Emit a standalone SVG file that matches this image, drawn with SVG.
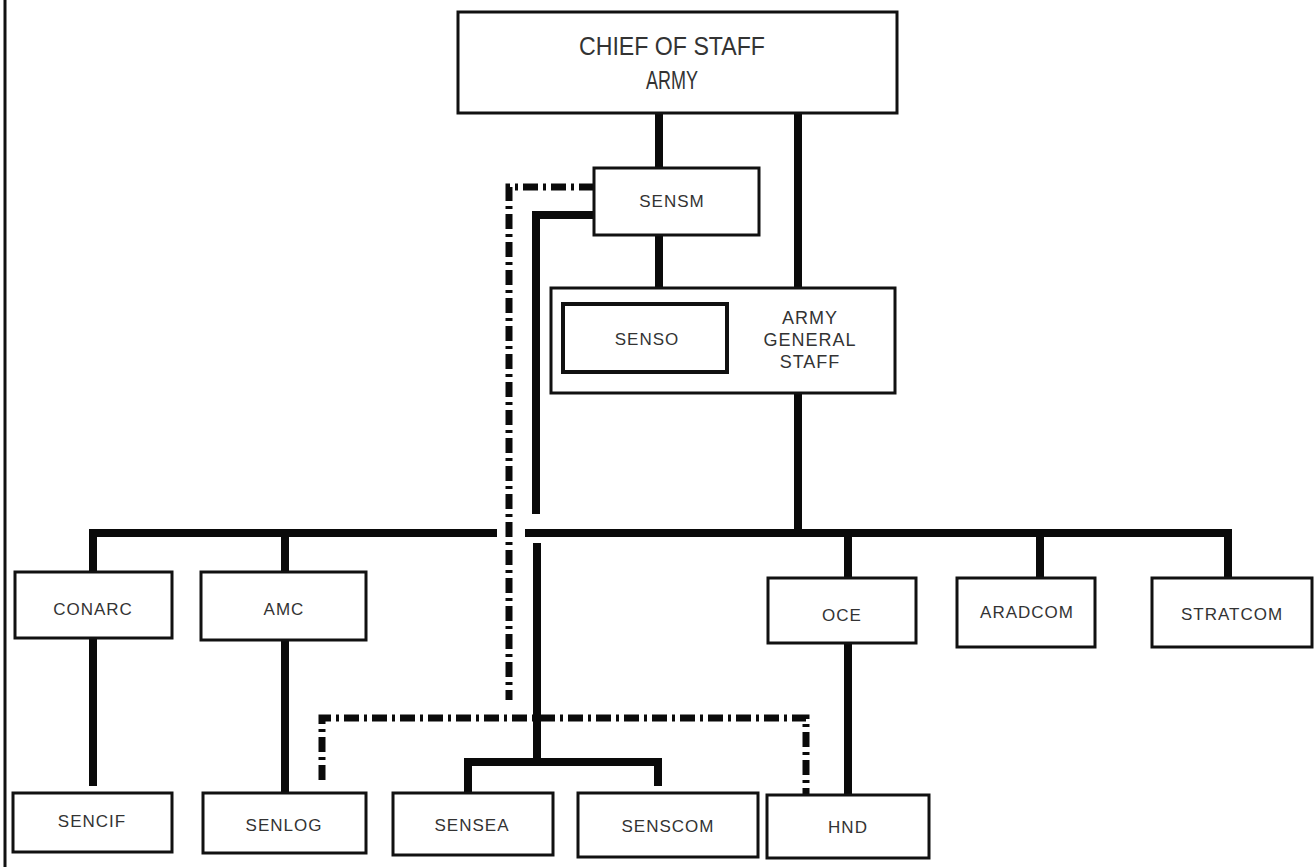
<svg xmlns="http://www.w3.org/2000/svg" width="1315" height="867" viewBox="0 0 1315 867">
<style>
.box{fill:#fff;stroke:#111;stroke-width:3}
.inner{fill:#fff;stroke:#111;stroke-width:4}
.ln{fill:none;stroke:#0a0a0a;stroke-width:8;stroke-linecap:butt;stroke-linejoin:miter}
.dd{fill:none;stroke:#0a0a0a;stroke-width:7;stroke-dasharray:15 5 3 5}
.t{font-family:"Liberation Sans",Arial,sans-serif;font-size:17px;letter-spacing:1px;fill:#333;text-anchor:middle}
.big{font-size:26px;letter-spacing:0}
</style>
<rect width="1315" height="867" fill="#fff"/>
<line x1="5" y1="0" x2="5" y2="867" stroke="#111" stroke-width="3"/>
<g id="connectors">
<path class="ln" d="M659,113 V168"/>
<path class="ln" d="M798,113 V288"/>
<path class="ln" d="M659,235 V288"/>
<path class="ln" d="M798,393 V533"/>
<path class="ln" d="M594,215 H536 V514"/>
<path class="ln" d="M93,572 V533 H497"/>
<path class="ln" d="M525,533 H1228 V578"/>
<path class="ln" d="M285,533 V572"/>
<path class="ln" d="M848,533 V578"/>
<path class="ln" d="M1040,533 V578"/>
<path class="ln" d="M93,638 V786"/>
<path class="ln" d="M285,640 V793"/>
<path class="ln" d="M848,643 V795"/>
<path class="ln" d="M537,543 V762"/>
<path class="ln" d="M468,793 V762 H658 V786"/>
<path class="dd" d="M594,187 H509 V700"/>
<path class="dd" d="M322,780 V718 H806 V795"/>
</g>
<g id="chief"><rect class="box" x="458" y="12" width="439" height="101"/>
<text class="t big" x="672" y="55" textLength="186" lengthAdjust="spacingAndGlyphs">CHIEF OF STAFF</text>
<text class="t big" x="672" y="89" textLength="52" lengthAdjust="spacingAndGlyphs">ARMY</text></g>
<g id="sensm"><rect class="box" x="594" y="168" width="165" height="67"/>
<text class="t" x="672" y="207" font-size="16">SENSM</text></g>
<g id="ags"><rect class="box" x="551" y="288" width="344" height="105"/>
<text class="t" x="810" y="324" style="font-size:18px">ARMY</text>
<text class="t" x="810" y="346" style="font-size:18px">GENERAL</text>
<text class="t" x="810" y="368" style="font-size:18px">STAFF</text></g>
<g id="senso"><rect class="inner" x="563" y="304" width="164" height="68"/>
<text class="t" x="647" y="345">SENSO</text></g>
<g id="conarc"><rect class="box" x="15" y="572" width="157" height="66"/><text class="t" x="93" y="615">CONARC</text></g>
<g id="amc"><rect class="box" x="201" y="572" width="165" height="68"/><text class="t" x="284" y="615">AMC</text></g>
<g id="oce"><rect class="box" x="768" y="578" width="148" height="65"/><text class="t" x="842" y="621">OCE</text></g>
<g id="aradcom"><rect class="box" x="957" y="578" width="138" height="69"/><text class="t" x="1027" y="618">ARADCOM</text></g>
<g id="stratcom"><rect class="box" x="1152" y="578" width="160" height="69"/><text class="t" x="1232" y="620">STRATCOM</text></g>
<g id="sencif"><rect class="box" x="13" y="793" width="159" height="59"/><text class="t" x="92" y="827">SENCIF</text></g>
<g id="senlog"><rect class="box" x="203" y="793" width="163" height="60"/><text class="t" x="284" y="831">SENLOG</text></g>
<g id="sensea"><rect class="box" x="393" y="793" width="160" height="62"/><text class="t" x="472" y="831">SENSEA</text></g>
<g id="senscom"><rect class="box" x="578" y="793" width="180" height="64"/><text class="t" x="668" y="832">SENSCOM</text></g>
<g id="hnd"><rect class="box" x="767" y="795" width="162" height="63"/><text class="t" x="848" y="833">HND</text></g>
</svg>
